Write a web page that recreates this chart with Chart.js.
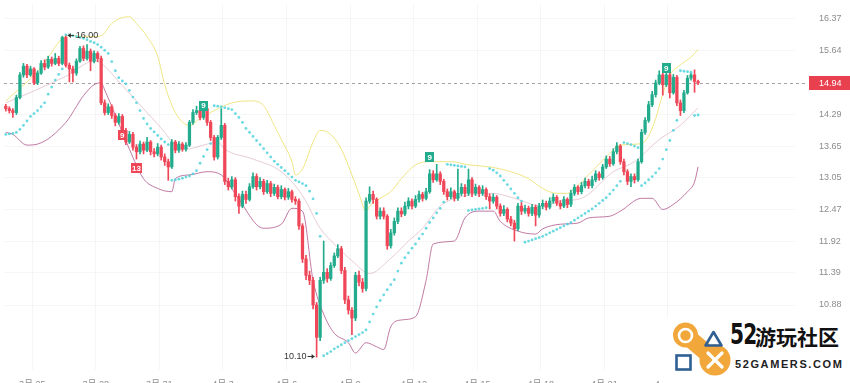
<!DOCTYPE html>
<html lang="zh">
<head>
<meta charset="utf-8">
<title>K线图</title>
<script src="https://cdn.jsdelivr.net/npm/chart.js@4.4.1/dist/chart.umd.min.js"></script>
<style>
  html, body { margin: 0; padding: 0; background: #fff; overflow: hidden; }
  #wrap { position: relative; width: 850px; height: 400px; }
  #mark { position: absolute; left: 661px; top: 318px; width: 189px; height: 82px; background: #fff; }
  #mark svg { position: absolute; left: 9px; top: 2px; }
  #mark .num { position: absolute; left: 69px; top: 3px; font: bold 28px "DejaVu Sans Condensed", "Liberation Sans Narrow", sans-serif; line-height: 28px; color: #111; transform: scaleX(0.8); transform-origin: left top; letter-spacing: -1px; }
  #mark .cn { position: absolute; left: 94px; top: 7px; font: bold 21px "Noto Sans CJK SC", sans-serif; line-height: 22px; color: #111; }
  #mark .en { position: absolute; left: 74px; top: 40px; font: bold 11px "Liberation Sans", Arial, sans-serif; letter-spacing: 1.6px; color: #222; }
</style>
</head>
<body>
<div id="wrap">
  <canvas id="kline"></canvas>
  <div id="mark">
    <svg width="62" height="62" viewBox="0 0 62 62">
      <line x1="15.5" y1="15" x2="45" y2="40" stroke="#f2a73b" stroke-width="17" stroke-linecap="round"/>
      <circle cx="15.5" cy="15" r="12.5" fill="#f2a73b"/>
      <circle cx="45" cy="40" r="15.5" fill="#f2a73b"/>
      <circle cx="15.5" cy="15.5" r="6.5" fill="none" stroke="#fff" stroke-width="2.6"/>
      <polygon points="43.5,12 35.5,25.5 51.5,25.5" fill="none" stroke="#2f5f93" stroke-width="2.6" stroke-linejoin="round"/>
      <rect x="6.5" y="35.5" width="14" height="14" fill="none" stroke="#2f5f93" stroke-width="2.6"/>
      <line x1="38" y1="33" x2="52" y2="47" stroke="#fff" stroke-width="3.2" stroke-linecap="round"/>
      <line x1="52" y1="33" x2="38" y2="47" stroke="#fff" stroke-width="3.2" stroke-linecap="round"/>
    </svg>
    <div class="num">52</div>
    <div class="cn">游玩社区</div>
    <div class="en">52GAMERS.COM</div>
  </div>
</div>
<script>
// 4h candles, open of each = previous close
const firstOpen = 14.45;
const closes = [
  14.40, 14.36, 14.32, 14.63, 15.11, 15.30, 15.11, 15.24, 14.94, 15.15,
  15.36, 15.28, 15.45, 15.36, 15.47, 15.36, 15.94, 15.32, 15.24, 15.15,
  15.41, 15.69, 15.47, 15.63, 15.41, 15.58, 15.47, 14.52, 14.32, 14.44,
  14.26, 14.12, 14.24, 13.96, 13.73, 13.88, 13.63, 13.54, 13.69, 13.57,
  13.73, 13.54, 13.50, 13.63, 13.44, 13.35, 13.25, 13.73, 13.57, 13.69,
  13.59, 13.67, 14.12, 14.32, 14.36, 14.22, 14.40, 14.12, 13.82, 13.44,
  13.82, 14.06, 12.98, 12.88, 13.01, 12.70, 12.53, 12.74, 12.65, 12.88,
  13.07, 12.88, 12.98, 12.79, 12.94, 12.76, 12.87, 12.70, 12.83, 12.69,
  12.79, 12.65, 12.62, 12.18, 11.62, 11.35, 11.27, 10.88, 10.39, 11.27,
  11.40, 11.30, 11.51, 11.67, 11.79, 11.43, 10.96, 10.80, 10.68, 11.35,
  11.24, 11.14, 12.62, 12.74, 12.65, 12.35, 12.44, 12.35, 11.84, 12.06,
  12.26, 12.44, 12.39, 12.53, 12.62, 12.53, 12.65, 12.74, 12.67, 12.79,
  13.12, 13.01, 13.12, 12.98, 12.79, 12.70, 12.79, 12.67, 12.76, 12.87,
  12.76, 13.01, 12.76, 12.87, 12.76, 12.83, 12.70, 12.62, 12.69, 12.53,
  12.40, 12.47, 12.30, 12.23, 12.13, 12.53, 12.44, 12.49, 12.40, 12.51,
  12.37, 12.53, 12.58, 12.51, 12.62, 12.69, 12.58, 12.53, 12.65, 12.56,
  12.76, 12.87, 12.79, 12.90, 12.98, 12.90, 13.01, 13.12, 13.05, 13.25,
  13.40, 13.31, 13.54, 13.65, 13.35, 13.16, 12.98, 13.07, 13.01, 13.35,
  13.92, 14.16, 14.48, 14.69, 14.94, 15.11, 14.90, 15.11, 14.73, 15.06,
  14.52, 14.36, 14.73, 15.04, 15.11, 14.97, 14.94
];
const highs = [
  14.49, 14.44, 14.40, 14.68, 15.16, 15.36, 15.34, 15.30, 15.27, 15.20,
  15.42, 15.44, 15.52, 15.50, 15.58, 15.52, 15.97, 16.00, 15.37, 15.30,
  15.46, 15.74, 15.75, 15.78, 15.68, 15.64, 15.62, 15.52, 14.58, 14.50,
  14.48, 14.30, 14.30, 14.28, 14.00, 13.94, 13.92, 13.68, 13.75, 13.73,
  13.82, 13.76, 13.60, 13.70, 13.67, 13.50, 13.40, 13.78, 13.76, 13.74,
  13.72, 13.72, 14.16, 14.38, 14.45, 14.42, 14.46, 14.44, 14.16, 13.86,
  13.86, 14.40, 14.10, 13.04, 13.07, 13.05, 12.75, 12.80, 12.80, 12.94,
  13.14, 13.12, 13.05, 13.02, 13.00, 12.98, 12.93, 12.91, 12.90, 12.86,
  12.85, 12.82, 12.70, 12.66, 12.22, 11.68, 11.42, 11.32, 10.92, 11.32,
  11.92, 11.46, 11.56, 11.72, 11.86, 11.83, 11.48, 11.02, 10.84, 11.40,
  11.42, 11.30, 12.68, 12.88, 12.80, 12.68, 12.50, 12.50, 12.38, 12.12,
  12.32, 12.50, 12.50, 12.60, 12.68, 12.66, 12.72, 12.80, 12.78, 12.85,
  13.20, 13.18, 13.30, 13.16, 13.02, 12.84, 12.86, 12.82, 13.21, 12.94,
  12.92, 13.21, 13.05, 12.93, 12.90, 12.90, 12.86, 12.75, 12.75, 12.72,
  12.57, 12.54, 12.50, 12.35, 12.28, 12.58, 12.60, 12.55, 12.53, 12.56,
  12.55, 12.58, 12.64, 12.62, 12.68, 12.75, 12.72, 12.63, 12.70, 12.68,
  12.82, 12.92, 12.90, 12.96, 13.04, 13.02, 13.08, 13.18, 13.16, 13.30,
  13.46, 13.45, 13.60, 13.72, 13.68, 13.40, 13.20, 13.12, 13.12, 13.40,
  13.98, 14.22, 14.55, 14.76, 15.00, 15.20, 15.16, 15.20, 15.15, 15.12,
  15.10, 14.58, 14.78, 15.10, 15.15, 15.22, 15.00
];
const lows = [
  14.35, 14.31, 14.22, 14.28, 14.60, 15.06, 15.05, 15.08, 14.90, 14.90,
  15.12, 15.22, 15.25, 15.30, 15.33, 15.31, 15.33, 15.28, 14.96, 14.96,
  15.10, 15.38, 15.42, 15.43, 15.20, 15.37, 15.40, 14.48, 14.27, 14.28,
  14.20, 14.05, 14.08, 13.90, 13.68, 13.70, 13.57, 13.40, 13.50, 13.50,
  13.54, 13.48, 13.44, 13.46, 13.38, 13.28, 13.00, 13.22, 13.52, 13.53,
  13.55, 13.55, 13.64, 14.08, 14.28, 14.17, 14.18, 14.06, 13.76, 13.38,
  13.40, 13.78, 12.92, 12.82, 12.84, 12.62, 12.40, 12.50, 12.58, 12.62,
  12.85, 12.82, 12.84, 12.74, 12.76, 12.70, 12.72, 12.66, 12.66, 12.64,
  12.65, 12.60, 12.56, 12.12, 11.56, 11.28, 11.20, 10.82, 10.10, 10.34,
  11.22, 11.24, 11.27, 11.48, 11.64, 11.38, 10.90, 10.74, 10.43, 10.64,
  11.18, 11.08, 11.10, 12.58, 12.58, 12.30, 12.30, 12.30, 11.78, 11.80,
  12.02, 12.22, 12.34, 12.36, 12.48, 12.48, 12.50, 12.60, 12.62, 12.64,
  12.76, 12.96, 12.98, 12.92, 12.74, 12.64, 12.66, 12.62, 12.63, 12.72,
  12.70, 12.72, 12.70, 12.72, 12.70, 12.72, 12.65, 12.48, 12.58, 12.48,
  12.35, 12.36, 12.25, 12.18, 11.92, 12.10, 12.38, 12.40, 12.35, 12.36,
  12.18, 12.33, 12.48, 12.46, 12.48, 12.58, 12.54, 12.48, 12.50, 12.50,
  12.52, 12.72, 12.74, 12.75, 12.86, 12.85, 12.86, 12.97, 13.00, 13.02,
  13.22, 13.26, 13.28, 13.50, 13.30, 13.10, 12.92, 12.88, 12.95, 12.98,
  13.32, 13.88, 14.12, 14.44, 14.64, 14.90, 14.68, 14.86, 14.62, 14.70,
  14.46, 14.26, 14.32, 14.70, 15.00, 14.74, 14.90
];
// parabolic SAR, one dot per candle
const sar = [
  13.88, 13.89, 13.90, 13.92, 13.98, 14.06, 14.15, 14.24, 14.30, 14.36,
  14.44, 14.52, 14.70, 14.85, 15.00, 15.12, 15.24, 16.00, 16.00, 15.98,
  15.96, 15.94, 15.92, 15.89, 15.85, 15.82, 15.78, 15.72, 15.65, 15.58,
  15.40, 15.20, 15.05, 14.98, 14.92, 14.78, 14.64, 14.52, 14.36, 14.20,
  14.09, 14.00, 13.93, 13.86, 13.79, 13.73, 13.68, 13.00, 13.01, 13.02,
  13.04, 13.06, 13.08, 13.12, 13.18, 13.32, 13.45, 13.58, 13.70, 14.46,
  14.45, 14.44, 14.42, 14.40, 14.38, 14.30, 14.22, 14.12, 14.00, 13.92,
  13.84, 13.76, 13.68, 13.60, 13.52, 13.44, 13.36, 13.30, 13.24, 13.18,
  13.12, 13.06, 13.00, 12.97, 12.94, 12.90, 12.80, 12.66, 12.40, 12.00,
  10.12, 10.15, 10.18, 10.22, 10.25, 10.28, 10.31, 10.34, 10.37, 10.40,
  10.43, 10.46, 10.50, 10.62, 10.74, 10.85, 10.95, 11.04, 11.12, 11.20,
  11.28, 11.42, 11.55, 11.64, 11.72, 11.80, 11.87, 11.96, 12.04, 12.14,
  12.24, 12.32, 12.41, 12.49, 12.60, 13.30, 13.29, 13.28, 13.27, 13.26,
  13.25, 12.45, 12.46, 12.47, 12.48, 12.49, 12.50, 13.22, 13.19, 13.14,
  13.08, 13.00, 12.92, 12.84, 12.76, 12.68, 12.62, 11.90, 11.92, 11.94,
  11.96, 11.98, 12.00, 12.03, 12.06, 12.09, 12.12, 12.15, 12.18, 12.21,
  12.24, 12.28, 12.32, 12.36, 12.40, 12.44, 12.48, 12.53, 12.58, 12.63,
  12.68, 12.75, 12.82, 12.90, 12.98, 13.72, 13.70, 13.68, 13.65, 13.62,
  12.90, 12.95, 13.01, 13.07, 13.14, 13.22, 13.40, 13.58, 13.76, 13.96,
  14.16, 15.20, 15.19, 15.18, 15.17, 14.26, 14.27
];
// Bollinger bands read at candle positions
const upperIdx = [0, 9, 12, 16, 18, 25, 27, 30, 32, 35, 37, 40, 43, 45, 48, 52, 55, 58, 64, 70,
  73, 76, 78, 81, 82, 84, 87, 89, 92, 95, 98, 100, 102, 103, 106, 109, 112, 116, 120, 126,
  131, 137, 143, 148, 152, 156, 159, 161, 165, 170, 174, 180, 182, 184, 186, 188, 191, 194, 196];
const upper = [14.56, 15.19, 15.50, 15.92, 15.98, 15.96, 15.98, 16.26, 16.37, 16.42, 16.26, 15.96, 15.52, 14.90, 14.32, 14.06, 14.20, 14.32, 14.52, 14.56,
  14.46, 14.06, 13.78, 13.35, 13.10, 13.21, 13.73, 13.96, 13.88, 13.59, 13.10, 12.75, 12.44, 12.53, 12.67, 12.79, 13.03, 13.29, 13.35, 13.35,
  13.29, 13.25, 13.16, 13.03, 12.85, 12.76, 12.76, 12.85, 13.10, 13.44, 13.67, 13.70, 13.85, 14.20, 14.70, 15.10, 15.33, 15.50, 15.67];
const middleIdx = [0, 8, 17, 25, 27, 33, 40, 45, 47, 51, 56, 60, 62, 70, 78, 84, 89, 93, 98, 103,
  109, 114, 118, 123, 129, 138, 143, 152, 157, 163, 172, 178, 185, 191, 196];
const middle = [14.52, 14.77, 15.08, 15.41, 15.36, 14.88, 14.32, 13.92, 13.73, 13.59, 13.67, 13.73, 13.59, 13.40, 13.16, 12.72, 12.14, 11.87, 11.59, 11.38,
  11.63, 11.92, 12.14, 12.53, 12.70, 12.76, 12.69, 12.53, 12.62, 12.67, 13.16, 13.35, 13.78, 14.06, 14.42];
const lowerIdx = [0, 2, 6, 9, 17, 22, 25, 27, 28, 35, 39, 43, 47, 48, 52, 57, 61, 65, 73, 78,
  81, 84, 87, 90, 93, 97, 99, 102, 105, 107, 109, 112, 116, 119, 121, 127, 130, 134, 138, 140,
  145, 150, 152, 157, 162, 165, 171, 174, 180, 183, 186, 189, 193, 195, 196];
const lower = [13.92, 13.88, 13.67, 13.69, 14.12, 14.67, 14.90, 14.94, 14.79, 13.59, 13.03, 12.85, 12.79, 13.03, 13.10, 13.16, 13.10, 12.75, 12.14, 12.21,
  12.49, 12.44, 11.27, 10.74, 10.45, 10.31, 10.16, 10.31, 10.25, 10.21, 10.55, 10.65, 10.70, 11.27, 11.87, 11.92, 12.32, 12.44, 12.44, 12.26,
  12.09, 12.04, 12.13, 12.21, 12.23, 12.32, 12.35, 12.44, 12.67, 12.67, 12.47, 12.56, 12.79, 12.97, 13.25];

const xTickIdx = [7.47, 25.47, 43.47, 61.47, 79.47, 97.47, 115.47, 133.47, 151.47, 169.47, 187.47];
const xTickLabels = ['3月 25', '3月 28', '3月 31', '4月 3', '4月 6', '4月 9', '4月 12', '4月 15', '4月 18', '4月 21', '4月 24'];
const yTicks = [10.88, 11.39, 11.92, 12.47, 13.05, 13.65, 14.29, 15.64, 16.37];
const lastPrice = 14.94;

// TD sequential counts
const tdIdx = [33, 37, 56, 120, 187];
const tdPrice = [13.86, 13.23, 14.46, 13.44, 15.26];
const tdText = ['9', '13', '9', '9', '9'];
const tdBuy = [false, false, true, true, true];

const highMark = [17, 16.00];
const lowMark = [88, 10.10];

const UP = '#22ab8c';
const DOWN = '#ef4658';

const opens = [firstOpen, ...closes.slice(0, -1)];
const candleColor = ctx => closes[ctx.dataIndex] >= opens[ctx.dataIndex] ? UP : DOWN;

const bodies = closes.map((c, i) => ({ x: i, y: [opens[i], c] }));
const wicks = closes.map((c, i) => ({ x: i, y: [lows[i], highs[i]] }));
const pts = (idx, vals) => idx.map((v, k) => ({ x: v, y: vals[k] }));

Chart.defaults.font.family = '"Liberation Sans", "Noto Sans CJK SC", Arial, sans-serif';

function arrow(ctx, from, to, y) {
    const dir = to > from ? 1 : -1;
    ctx.beginPath();
    ctx.moveTo(from, y);
    ctx.lineTo(to, y);
    ctx.stroke();
    ctx.beginPath();
    ctx.moveTo(to, y);
    ctx.lineTo(to - dir * 3, y - 2.5);
    ctx.lineTo(to - dir * 3, y + 2.5);
    ctx.closePath();
    ctx.fill();
}

const overlay = {
    id: 'overlay',
    beforeDatasetsDraw(chart) {
        const { ctx, chartArea: a, scales: { y } } = chart;
        const py = Math.round(y.getPixelForValue(lastPrice)) + 0.5;
        ctx.save();
        ctx.strokeStyle = '#a3a3a3';
        ctx.lineWidth = 1;
        ctx.setLineDash([3, 3]);
        ctx.beginPath();
        ctx.moveTo(a.left, py);
        ctx.lineTo(a.right + 13, py);
        ctx.stroke();
        ctx.restore();
    },
    afterDatasetsDraw(chart) {
        const { ctx, scales: { x, y } } = chart;
        ctx.save();
        ctx.textBaseline = 'middle';
        ctx.textAlign = 'center';
        ctx.font = 'bold 8px "Liberation Sans", Arial, sans-serif';
        tdIdx.forEach((idx, k) => {
            const px = x.getPixelForValue(idx);
            const py = y.getPixelForValue(tdPrice[k]);
            const w = tdText[k].length > 1 ? 11 : 9;
            ctx.fillStyle = tdBuy[k] ? UP : DOWN;
            ctx.fillRect(Math.round(px - w / 2), Math.round(py - 5), w, 10);
            ctx.fillStyle = '#fff';
            ctx.fillText(tdText[k], px, py + 0.5);
        });

        ctx.font = '9px "Liberation Sans", Arial, sans-serif';
        ctx.fillStyle = '#333';
        ctx.strokeStyle = '#333';
        ctx.lineWidth = 1;
        let px = x.getPixelForValue(highMark[0]);
        let py = Math.round(y.getPixelForValue(highMark[1])) + 0.5;
        arrow(ctx, px + 8, px + 2, py);
        ctx.textAlign = 'left';
        ctx.fillText(highMark[1].toFixed(2), px + 10, py);

        px = x.getPixelForValue(lowMark[0]);
        py = Math.round(y.getPixelForValue(lowMark[1])) - 0.5;
        arrow(ctx, px - 9, px - 2, py);
        ctx.textAlign = 'right';
        ctx.fillText(lowMark[1].toFixed(2), px - 10, py);
        ctx.restore();
    },
    afterDraw(chart) {
        const { ctx, chartArea: a, scales: { y } } = chart;
        const py = Math.round(y.getPixelForValue(lastPrice));
        ctx.save();
        ctx.fillStyle = '#e8404f';
        ctx.fillRect(a.right + 14, py - 7, 60, 14);
        ctx.fillStyle = '#fff';
        ctx.font = '9px "Liberation Sans", Arial, sans-serif';
        ctx.textBaseline = 'middle';
        ctx.textAlign = 'left';
        ctx.fillText(lastPrice.toFixed(2), a.right + 24, py + 0.5);
        ctx.restore();
    }
};

new Chart(document.getElementById('kline'), {
    type: 'bar',
    data: {
        datasets: [
            {
                type: 'line',
                label: 'BOLL UP',
                data: pts(upperIdx, upper),
                borderColor: 'rgba(236, 222, 100, 0.8)',
                borderWidth: 1,
                pointRadius: 0,
                cubicInterpolationMode: 'monotone',
                order: 4
            },
            {
                type: 'line',
                label: 'BOLL MID',
                data: pts(middleIdx, middle),
                borderColor: 'rgba(214, 170, 190, 0.6)',
                borderWidth: 1,
                pointRadius: 0,
                cubicInterpolationMode: 'monotone',
                order: 4
            },
            {
                type: 'line',
                label: 'BOLL DN',
                data: pts(lowerIdx, lower),
                borderColor: 'rgba(178, 88, 140, 0.8)',
                borderWidth: 1,
                pointRadius: 0,
                cubicInterpolationMode: 'monotone',
                order: 4
            },
            {
                label: 'wick',
                data: wicks,
                backgroundColor: candleColor,
                barThickness: 1,
                grouped: false,
                order: 3
            },
            {
                label: 'body',
                data: bodies,
                backgroundColor: candleColor,
                barThickness: 2.6,
                minBarLength: 1,
                grouped: false,
                order: 2
            },
            {
                type: 'line',
                label: 'SAR',
                data: sar.map((v, i) => ({ x: i, y: v })),
                showLine: false,
                pointRadius: 1.4,
                pointBorderWidth: 0,
                pointBackgroundColor: 'rgba(80, 210, 220, 0.85)',
                order: 1
            }
        ]
    },
    options: {
        animation: false,
        responsive: true,
        maintainAspectRatio: false,
        layout: { padding: 0 },
        plugins: {
            legend: { display: false },
            tooltip: { enabled: false }
        },
        scales: {
            x: {
                type: 'linear',
                min: -0.507,
                max: 223.44,
                offset: false,
                grid: { color: 'rgba(0, 0, 0, 0.035)', drawTicks: false, offset: false },
                border: { display: false },
                ticks: {
                    autoSkip: false,
                    maxRotation: 0,
                    padding: 9,
                    color: '#8c8c8c',
                    font: { size: 9 },
                    callback: (v, i) => xTickLabels[i]
                },
                afterBuildTicks: s => { s.ticks = xTickIdx.map(v => ({ value: v })); },
                afterFit: s => { s.height = 30; s.paddingLeft = 0; s.paddingRight = 0; }
            },
            y: {
                type: 'logarithmic',
                position: 'right',
                min: 9.916,
                max: 16.72,
                grid: { color: 'rgba(0, 0, 0, 0.035)', drawTicks: false },
                border: { display: false },
                ticks: {
                    autoSkip: false,
                    padding: 24,
                    color: '#8c8c8c',
                    font: { size: 9 },
                    callback: v => Number(v).toFixed(2)
                },
                afterBuildTicks: s => { s.ticks = yTicks.map(v => ({ value: v })); },
                afterFit: s => { s.width = 55; s.paddingTop = 0; s.paddingBottom = 0; }
            }
        }
    },
    plugins: [overlay]
});
</script>
</body>
</html>
